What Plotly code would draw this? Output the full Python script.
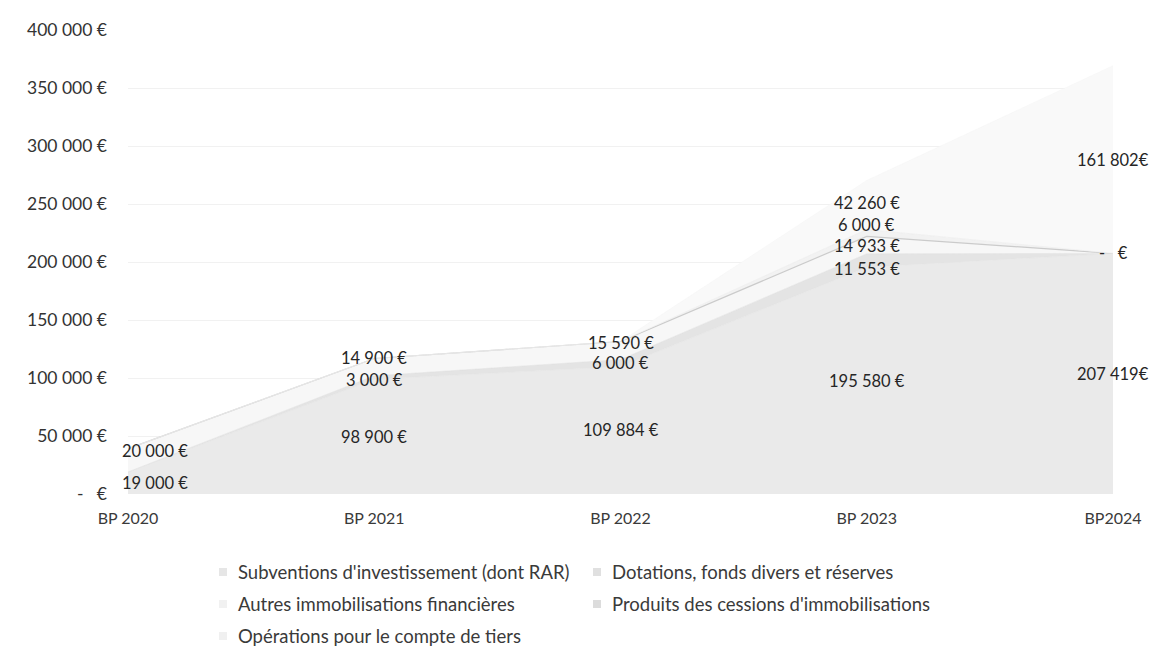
import numpy as np
import plotly.graph_objects as go

categories = ["BP 2020", "BP 2021", "BP 2022", "BP 2023", "BP2024"]
subventions = [19000, 98900, 109884, 195580, 207419]
dotations = [0, 3000, 6000, 11553, 0]
autres_immo = [20000, 14900, 15590, 14933, 0]
cessions = [0, 0, 0, 6000, 0]
tiers = [0, 0, 0, 42260, 161802]

series_names = [
    "Subventions d'investissement (dont RAR)",
    "Dotations, fonds divers et réserves",
    "Autres immobilisations financières",
    "Produits des cessions d'immobilisations",
    "Opérations pour le compte de tiers",
]
y_ticks = [0, 50000, 100000, 150000, 200000, 250000, 300000, 350000, 400000]
label_suffix = [" €", " €", " €", " €", "€"]

series = [subventions, dotations, autres_immo, cessions, tiers]
fills = ["#eaeaea", "#e4e4e4", "#f7f7f7", "#f2f2f2", "#f9f9f9"]
lines = ["#e3e3e3", "#dcdcdc", "#cbcbcb", "#e8e8e8", "#f5f5f5"]
line_w = [0.5, 0.5, 1.2, 0.5, 0.5]

# small vertical nudges (px, + = down) so stacked labels don't collide
label_nudge = {
    (2, 0): -9,
    (2, 1): -9, (1, 1): 2,
    (2, 2): -8,
    (1, 3): 9, (2, 3): 1, (3, 3): -8, (4, 3): -2,
}

FONT = "Lato"
# the page body has an 8px margin, plot area wanted at x 128..1113, y 30..494
PX0, PX1, PY0, PY1 = 128, 1113, 30, 494


def money(v, suffix=" €"):
    if v == 0:
        return "-\u00a0\u00a0\u00a0€"
    return f"{v:,}".replace(",", " ") + suffix


def paper(px, py):
    return (px - PX0) / (PX1 - PX0), (PY1 - py) / (PY1 - PY0)


fig = go.Figure()
for name, vals, fc, lc, lw in zip(series_names, series, fills, lines, line_w):
    fig.add_trace(
        go.Scatter(
            x=categories,
            y=vals,
            name=name,
            mode="lines",
            stackgroup="one",
            fillcolor=fc,
            line=dict(color=lc, width=lw),
            hoverinfo="skip",
        )
    )

# data labels sit in the middle of each band
arr = np.array(series, dtype=float)
tops = arr.cumsum(axis=0)
mids = tops - arr / 2
annots = []
seen = set()
for s in range(arr.shape[0]):
    for c, cat in enumerate(categories):
        v = int(arr[s, c])
        if v == 0 and c != len(categories) - 1:
            continue
        key = (c, round(mids[s, c]))
        if key in seen:
            continue
        seen.add(key)
        annots.append(
            dict(
                x=cat,
                y=mids[s, c],
                text=money(v, label_suffix[c]),
                showarrow=False,
                xshift=27 if c == 0 else 0,
                yshift=-label_nudge.get((s, c), 0),
                borderpad=0,
                font=dict(family=FONT, size=16.5, color="#262626"),
            )
        )

# legend, laid out as in the source (two columns, three rows)
leg_pos = [(223, 572), (597, 572), (223, 604), (597, 604), (223, 636)]
leg_sq = ["#e6e6e6", "#e0e0e0", "#f1f1f1", "#dcdcdc", "#f0f0f0"]
shapes = []
for name, (px, py), col in zip(series_names, leg_pos, leg_sq):
    x0, y0 = paper(px - 4, py + 4)
    x1, y1 = paper(px + 4, py - 4)
    shapes.append(
        dict(type="rect", xref="paper", yref="paper", x0=x0, x1=x1, y0=y0, y1=y1,
             fillcolor=col, line=dict(width=0))
    )
    tx, ty = paper(px + 13, py)
    annots.append(
        dict(xref="paper", yref="paper", x=tx, y=ty,
             xanchor="left", yanchor="middle", text=name, showarrow=False,
             font=dict(family=FONT, size=18.5, color="#3a3a3a"))
    )

fig.update_layout(
    width=1160,
    height=672,
    margin=dict(l=PX0 - 8, r=1160 + 8 - PX1, t=PY0 - 8, b=672 + 8 - PY1),
    paper_bgcolor="white",
    plot_bgcolor="white",
    showlegend=False,
    annotations=annots,
    shapes=shapes,
    font=dict(family=FONT, size=15, color="#333333"),
)
fig.update_xaxes(
    type="category",
    range=[0, len(categories) - 1],
    showgrid=False,
    zeroline=False,
    showline=False,
    ticks="",
    ticklabelstandoff=13,
    tickfont=dict(family=FONT, size=16, color="#3a3a3a"),
)
fig.update_yaxes(
    range=[0, 400000],
    tickvals=y_ticks,
    ticktext=[money(v) for v in y_ticks],
    showgrid=True,
    gridcolor="#f1f1f1",
    gridwidth=1,
    zeroline=False,
    ticks="",
    ticklabelstandoff=20,
    tickfont=dict(family=FONT, size=17.5, color="#333333"),
)

fig.write_html("out.html")
